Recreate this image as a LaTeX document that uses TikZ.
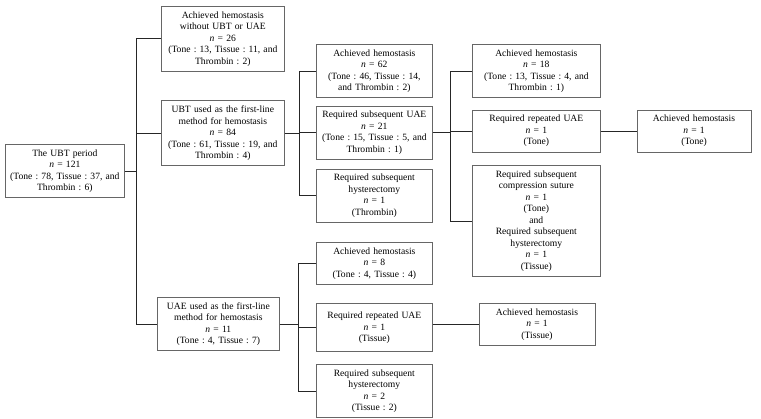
\documentclass[tikz,border=0pt]{standalone}
\usepackage{fontspec}
\setmainfont{Liberation Serif}
\usetikzlibrary{positioning}
\frenchspacing

\begin{document}
\begin{tikzpicture}[x=1pt, y=-1pt]
    \tikzstyle{box}=[draw=black!60, line width=0.7pt, fill=white, align=center, inner xsep=2pt, inner ysep=5pt, font=\fontsize{9.6}{11.5}\selectfont]
    \tikzstyle{link}=[draw=black!85, line width=0.8pt]

    \useasboundingbox (0,0) rectangle (761,419);

    % Root (UBT period)
    \node[box, text width=115pt, anchor=north west] (root) at (5,144) {The UBT period\\ \textit{n} = 121\\ (Tone : 78, Tissue : 37, and\\ Thrombin : 6)};

    % First level
    \node[box, text width=119pt, anchor=north west] (A1) at (161,6) {Achieved hemostasis\\ without UBT or UAE\\ \textit{n} = 26\\ (Tone : 13, Tissue : 11, and\\ Thrombin : 2)};
    \node[box, text width=119pt, below=29pt of A1] (UBT) {UBT used as the first-line\\ method for hemostasis\\ \textit{n} = 84\\ (Tone : 61, Tissue : 19, and\\ Thrombin : 4)};
    \node[box, text width=118pt, anchor=north west] (UAE) at (157,297) {UAE used as the first-line\\ method for hemostasis\\ \textit{n} = 11\\ (Tone : 4, Tissue : 7)};

    % After UBT
    \node[box, text width=112pt, anchor=north west] (B1) at (316,44) {Achieved hemostasis\\ \textit{n} = 62\\ (Tone : 46, Tissue : 14,\\ and Thrombin : 2)};
    \node[box, text width=112pt, below=8pt of B1] (B2) {Required subsequent UAE\\ \textit{n} = 21\\ (Tone : 15, Tissue : 5, and\\ Thrombin : 1)};
    \node[box, text width=112pt, below=9pt of B2] (B3) {Required subsequent\\ hysterectomy\\ \textit{n} = 1\\ (Thrombin)};

    % After subsequent UAE
    \node[box, text width=124pt, anchor=north west] (C1) at (472,44) {Achieved hemostasis\\ \textit{n} = 18\\ (Tone : 13, Tissue : 4, and\\ Thrombin : 1)};
    \node[box, text width=124pt, below=12pt of C1] (C2) {Required repeated UAE\\ \textit{n} = 1\\ (Tone)};
    \node[box, text width=124pt, below=13pt of C2] (C3) {Required subsequent\\ compression suture\\ \textit{n} = 1\\ (Tone)\\ and\\ Required subsequent\\ hysterectomy\\ \textit{n} = 1\\ (Tissue)};
    \node[box, text width=110pt, right=36pt of C2] (D1) {Achieved hemostasis\\ \textit{n} = 1\\ (Tone)};

    % After UAE
    \node[box, text width=112pt, anchor=north west] (E1) at (316,242) {Achieved hemostasis\\ \textit{n} = 8\\ (Tone : 4, Tissue : 4)};
    \node[box, text width=112pt, minimum height=48pt, below=19pt of E1] (E2) {Required repeated UAE\\ \textit{n} = 1\\ (Tissue)};
    \node[box, text width=112pt, below=12pt of E2] (E3) {Required subsequent\\ hysterectomy\\ \textit{n} = 2\\ (Tissue : 2)};
    \node[box, text width=112pt, anchor=north west] (F1) at ([xshift=46pt]E2.north east) {Achieved hemostasis\\ \textit{n} = 1\\ (Tissue)};

    % Connections
    \coordinate (t0) at ([xshift=12pt]root.east);
    \draw[link] (root.east) -- (t0);
    \draw[link] (A1.west) -| (t0) |- (UAE.west);
    \draw[link] (UBT.west) -- (UBT.west -| t0);

    \coordinate (t1) at ([xshift=15pt]UBT.east);
    \draw[link] (UBT.east) -- (t1);
    \draw[link] (B1.west) -| (t1) |- (B3.west);
    \draw[link] (B2.west) -- (B2.west -| t1);

    \coordinate (t2) at ([xshift=18pt]B2.east);
    \draw[link] (B2.east) -- (t2);
    \draw[link] (C1.west) -| (t2) |- (C3.west);
    \draw[link] (C2.west) -- (C2.west -| t2);
    \draw[link] (C2.east) -- (D1.west);

    \coordinate (t3) at ([xshift=19pt]UAE.east);
    \draw[link] (UAE.east) -- (t3);
    \draw[link] (E1.west) -| (t3) |- (E3.west);
    \draw[link] (E2.west) -- (E2.west -| t3);
    \draw[link] (F1.west -| E2.east) -- (F1.west);
\end{tikzpicture}
\end{document}
